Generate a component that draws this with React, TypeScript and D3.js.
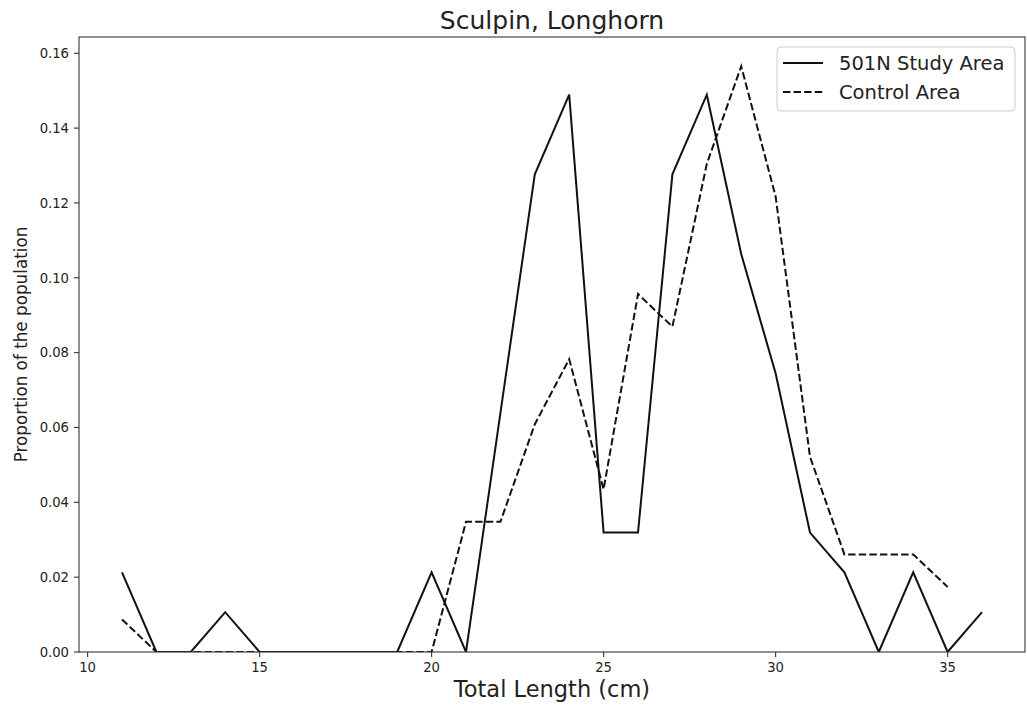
import React from "react";
import * as d3 from "d3";

const lengths = [11, 12, 13, 14, 15, 16, 17, 18, 19, 20, 21, 22, 23, 24, 25, 26, 27, 28, 29, 30, 31, 32, 33, 34, 35, 36];
const studyCounts = [2, 0, 0, 1, 0, 0, 0, 0, 0, 2, 0, 6, 12, 14, 3, 3, 12, 14, 10, 7, 3, 2, 0, 2, 0, 1];
const studyTotal = 94;
const controlLengths = [11, 12, 13, 14, 15, 16, 17, 18, 19, 20, 21, 22, 23, 24, 25, 26, 27, 28, 29, 30, 31, 32, 33, 34, 35];
const controlCounts = [1, 0, 0, 0, 0, 0, 0, 0, 0, 0, 4, 4, 7, 9, 5, 11, 10, 15, 18, 14, 6, 3, 3, 3, 2];
const controlTotal = 115;
const xTicks = [10, 15, 20, 25, 30, 35];
const yTicks = [0, 0.02, 0.04, 0.06, 0.08, 0.1, 0.12, 0.14, 0.16];
const seriesNames = ["501N Study Area", "Control Area"];

const W = 1027, H = 706;
const L = 79, R = 1025, T = 37, B = 652;
const font = "DejaVu Sans, sans-serif";
const ink = "#222";

export default function App() {
  const study = lengths.map((x, i) => ({ x, y: studyCounts[i] / studyTotal }));
  const control = controlLengths.map((x, i) => ({ x, y: controlCounts[i] / controlTotal }));
  const xMin = d3.min(lengths)!, xMax = d3.max(lengths)!;
  const xPad = (xMax - xMin) * 0.05;
  const yMax = Math.max(d3.max(study, d => d.y)!, d3.max(control, d => d.y)!) * 1.05;
  const x = d3.scaleLinear().domain([xMin - xPad, xMax + xPad]).range([L, R]);
  const y = d3.scaleLinear().domain([0, yMax]).range([B, T]);
  const line = d3.line<{ x: number; y: number }>().x(d => x(d.x)).y(d => y(d.y));
  const lw = 2;
  return (
    <div style={{ position: "fixed", left: 0, top: 0 }}>
      <svg width={W} height={H} style={{ display: "block", background: "#fff" }}>
        <rect x={0} y={0} width={W} height={H} fill="#fff" />
        <text x={(L + R) / 2} y={29} textAnchor="middle" fontFamily={font} fontSize={25} fill={ink}>Sculpin, Longhorn</text>
        <defs>
          <clipPath id="clip"><rect x={L} y={T - 2} width={R - L} height={B - T + 2} /></clipPath>
        </defs>
        <g clipPath="url(#clip)">
          <path d={line(study)!} fill="none" stroke="#111" strokeWidth={lw} strokeLinejoin="miter" />
          <path d={line(control)!} fill="none" stroke="#111" strokeWidth={lw} strokeDasharray="7.4,3.2" />
        </g>
        <rect x={L} y={T} width={R - L} height={B - T} fill="none" stroke="#333" strokeWidth={1.1} />
        {yTicks.map(t => (
          <g key={"y" + t}>
            <line x1={L - 5} x2={L} y1={y(t)} y2={y(t)} stroke="#333" strokeWidth={1.1} />
            <text x={L - 10} y={y(t)} dy="0.36em" textAnchor="end" fontFamily={font} fontSize={13.2} fill={ink}>{t.toFixed(2)}</text>
          </g>
        ))}
        {xTicks.map(t => (
          <g key={"x" + t}>
            <line x1={x(t)} x2={x(t)} y1={B} y2={B + 5} stroke="#333" strokeWidth={1.1} />
            <text x={x(t)} y={B + 20} textAnchor="middle" fontFamily={font} fontSize={13.2} fill={ink}>{t}</text>
          </g>
        ))}
        <text x={(L + R) / 2} y={697} textAnchor="middle" fontFamily={font} fontSize={22.5} fill={ink}>Total Length (cm)</text>
        <text transform={`translate(27,${(T + B) / 2}) rotate(-90)`} textAnchor="middle" fontFamily={font} fontSize={16.8} fill={ink}>Proportion of the population</text>
        <g>
          <rect x={777} y={47} width={238} height={64} rx={4} fill="#fff" fillOpacity={0.8} stroke="#ccc" strokeWidth={1} />
          <line x1={783} x2={823} y1={63} y2={63} stroke="#111" strokeWidth={lw} />
          <text x={839} y={63} dy="0.36em" fontFamily={font} fontSize={19.5} fill={ink}>{seriesNames[0]}</text>
          <line x1={783} x2={823} y1={92} y2={92} stroke="#111" strokeWidth={lw} strokeDasharray="7.4,3.2" />
          <text x={839} y={92} dy="0.36em" fontFamily={font} fontSize={19.5} fill={ink}>{seriesNames[1]}</text>
        </g>
      </svg>
    </div>
  );
}
